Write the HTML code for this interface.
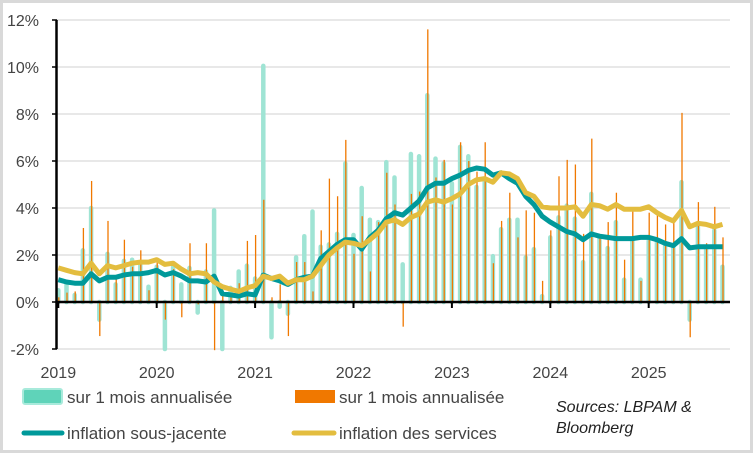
<!DOCTYPE html>
<html><head><meta charset="utf-8"><style>
html,body{margin:0;padding:0;background:#fff}
svg{display:block;font-family:"Liberation Sans",sans-serif}
</style></head><body>
<svg id="chart" width="753" height="453" viewBox="0 0 753 453">
<rect x="1.5" y="1.5" width="750" height="450" fill="#fff" stroke="#d9d9d9" stroke-width="3"/>
<g id="grid"></g>
<g id="bars"></g>
<g id="lines"></g>
<g id="axes"></g>
<g font-size="17" fill="#444">
<rect x="23" y="389" width="39" height="15" rx="2" fill="#5fd3b9" stroke="#a8eadb" stroke-width="2"/>
<text x="67" y="403">sur 1 mois annualisée</text>
<rect x="295" y="390" width="40" height="13" fill="#f07800"/>
<text x="339" y="403">sur 1 mois annualisée</text>
<line x1="24" y1="433" x2="62" y2="433" stroke="#00999a" stroke-width="5" stroke-linecap="round"/>
<text x="67" y="439">inflation sous-jacente</text>
<line x1="294" y1="433" x2="334" y2="433" stroke="#e3bd3f" stroke-width="5" stroke-linecap="round"/>
<text x="339" y="439">inflation des services</text>
<text x="556" y="412" font-size="16" font-style="italic" fill="#222">Sources: LBPAM &amp;</text>
<text x="556" y="433" font-size="16" font-style="italic" fill="#222">Bloomberg</text>
</g>
</svg>
<script>
const years = ["2019","2020","2021","2022","2023","2024","2025"];
const yTicks = [-2,0,2,4,6,8,10,12];
const tealBars = [0.5,0.8,0.3,2.2,4.0,-0.75,2.05,0.75,1.75,1.8,1.6,0.65,1.5,-2.0,1.5,0.75,1.45,-0.45,1.3,3.9,-2.0,0.6,1.3,1.55,1.0,10.05,-1.5,-0.2,-0.5,1.9,2.8,3.85,2.35,2.45,2.9,5.9,2.85,4.85,3.5,3.4,5.95,5.3,1.6,6.3,6.2,8.8,6.1,5.9,5.05,6.6,6.2,4.9,5.2,1.95,3.1,3.5,3.5,1.9,2.25,0.25,2.75,3.6,4.1,3.55,1.7,4.6,2.7,2.3,3.4,0.95,2.6,0.95,2.6,2.6,2.4,2.3,5.1,-0.75,3.2,2.35,3.05,1.5];
const orangeBars = [0.2,0.4,0.45,3.15,5.15,-1.45,3.45,1.15,2.65,1.5,2.2,0.5,1.8,-0.75,1.4,-0.65,2.5,-0.1,2.5,-2.05,0.35,0.2,0.8,2.6,2.85,4.35,0.2,0.75,-1.45,1.7,1.7,0.45,3.05,5.25,4.5,6.9,2.05,3.65,1.3,3.4,5.5,4.15,-1.05,4.6,4.7,11.6,5.3,6.05,4.15,6.8,6.0,5.55,6.8,1.65,3.45,4.65,2.75,3.9,3.8,0.9,3.05,5.35,6.05,5.85,2.9,6.95,2.75,3.4,4.65,1.8,3.85,0.9,3.8,3.7,3.3,3.4,8.05,-1.5,4.25,2.5,4.05,2.75];
const coreLine = [0.95,0.85,0.8,0.8,1.2,0.9,1.05,1.05,1.15,1.2,1.2,1.25,1.35,1.15,1.25,1.1,0.9,0.9,0.85,1.1,0.35,0.3,0.25,0.35,0.3,1.15,1.0,0.9,0.75,0.95,1.05,1.1,1.85,2.15,2.45,2.65,2.65,2.25,2.75,3.05,3.55,3.8,3.7,4.0,4.3,4.85,5.05,5.05,5.25,5.4,5.6,5.7,5.65,5.4,5.5,5.25,5.05,4.5,4.15,3.65,3.4,3.2,3.0,2.9,2.65,2.9,2.8,2.75,2.7,2.7,2.7,2.75,2.75,2.65,2.5,2.4,2.7,2.3,2.35,2.35,2.35,2.35];
const servicesLine = [1.45,1.35,1.25,1.2,1.65,1.2,1.55,1.45,1.55,1.65,1.7,1.7,1.8,1.6,1.65,1.4,1.2,1.25,1.2,0.85,0.65,0.55,0.45,0.6,0.7,1.1,1.0,1.1,0.8,0.95,0.95,1.1,1.55,2.0,2.3,2.55,2.5,2.4,2.65,2.95,3.4,3.5,3.3,3.6,3.75,4.25,4.35,4.25,4.4,4.6,5.0,5.2,5.25,5.1,5.5,5.45,5.25,4.65,4.5,4.05,4.0,4.0,4.0,4.05,3.65,4.15,4.1,3.95,4.15,3.95,3.95,3.95,4.05,3.8,3.6,3.45,3.9,3.2,3.35,3.3,3.2,3.3];

const NS="http://www.w3.org/2000/svg";
const x0=58.3, dx=8.2, zeroY=302, pxPer=23.5;
function xScale(i){return x0+dx*i;}
function yScale(v){return zeroY-v*pxPer;}
function mk(tag,attrs,parent){const e=document.createElementNS(NS,tag);for(const k in attrs)e.setAttribute(k,attrs[k]);parent.appendChild(e);return e;}
const grid=document.getElementById('grid'),bars=document.getElementById('bars'),lines=document.getElementById('lines'),axes=document.getElementById('axes');
yTicks.forEach(t=>{
  if(t!==0){const g=mk('line',{x1:57,x2:730,y1:yScale(t),y2:yScale(t),stroke:'#d9d9d9','stroke-width':1.3},grid);
  
  }
  const tk=mk('line',{x1:52,x2:57,y1:yScale(t),y2:yScale(t),stroke:'#000','stroke-width':1.5},axes);
  
  
  const lb=mk('text',{x:39,y:yScale(t)+6,'text-anchor':'end','font-size':16,fill:'#444'},axes);
  lb.textContent=t+'%';
  
  
});
tealBars.forEach((v,i)=>{
  const x=xScale(i);
  const b=mk('line',{x1:x,x2:x,y1:zeroY,y2:yScale(v),stroke:'#9fe4d4','stroke-width':4.5,'stroke-linecap':'round'},bars);
  
  
});
orangeBars.forEach((v,i)=>{
  const x=xScale(i)+0.5;
  const b=mk('line',{x1:x,x2:x,y1:zeroY,y2:yScale(v),stroke:'#f07800','stroke-width':1.3},bars);
  
  
});
function path(arr,color,name){
  const d=arr.map((v,i)=>(i?'L':'M')+xScale(i).toFixed(1)+','+yScale(v).toFixed(1)).join('');
  const p=mk('path',{d:d,fill:'none',stroke:color,'stroke-width':5,'stroke-linejoin':'round'},lines);
  
  
}
path(coreLine,'#00999a','core-inflation-line');
path(servicesLine,'#e3bd3f','services-inflation-line');
const ax=mk('line',{x1:56,x2:730,y1:zeroY,y2:zeroY,stroke:'#000','stroke-width':2.5},axes);


const ay=mk('line',{x1:56.5,x2:56.5,y1:yScale(12),y2:yScale(-2),stroke:'#000','stroke-width':2.5},axes);


years.forEach((y,k)=>{
  const x=xScale(k*12);
  const tk=mk('line',{x1:x,x2:x,y1:zeroY,y2:zeroY+6,stroke:'#000','stroke-width':2},axes);
  
  
  const lb=mk('text',{x:x,y:378,'text-anchor':'middle','font-size':16,fill:'#444'},axes);
  lb.textContent=y;
  
  
});
</script>
</body></html>
